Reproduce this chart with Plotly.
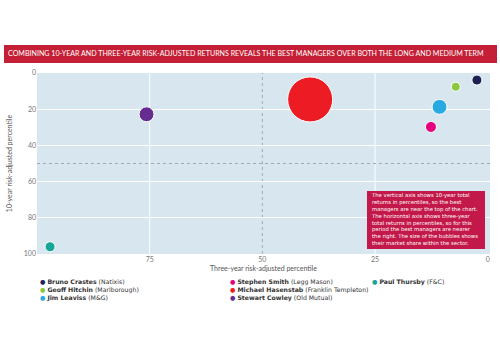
import plotly.graph_objects as go

names = ["Bruno Crastes", "Geoff Hitchin", "Jim Leaviss", "Stephen Smith",
         "Michael Hasenstab", "Stewart Cowley", "Paul Thursby"]
firms = ["Natixis", "Marlborough", "M&G", "Legg Mason",
         "Franklin Templeton", "Old Mutual", "F&C"]
three_year = [2.4, 7.1, 10.7, 12.6, 39.4, 75.7, 97.1]
ten_year = [3.9, 7.6, 18.7, 29.8, 14.6, 22.8, 96.0]
market_share = [1.0, 0.8, 2.2, 1.2, 20.0, 2.2, 1.0]
colors = ["#1f1f57", "#8dc63f", "#29a9e1", "#e6007e", "#ed1c24", "#662d91", "#17a597"]

x_ticks = [0, 25, 50, 75]
x_grid = [25, 75]
y_ticks = [0, 20, 40, 60, 80, 100]

title_text = "COMBINING 10-YEAR AND THREE-YEAR RISK-ADJUSTED RETURNS REVEALS THE BEST MANAGERS OVER BOTH THE LONG AND MEDIUM TERM"
note_lines = [
    "The vertical axis shows 10-year total",
    "returns in percentiles, so the best",
    "managers are near the top of the chart.",
    "The horizontal axis shows three-year",
    "total returns in percentiles, so for this",
    "period the best managers are nearer",
    "the right. The size of the bubbles shows",
    "their market share within the sector.",
]

FONT = "Lato"
WIDE = "DejaVu Sans"
L, R, T, B = 37, 10, 73, 96
W, H = 500, 350
pw, ph = W - L - R, H - T - B

def px_x(p):
    return (p - L) / pw

def px_y(p):
    return (H - B - p) / ph

fig = go.Figure()
maxd = 45
sizeref = 2.0 * max(market_share) / (maxd ** 2)
for i in range(len(names)):
    fig.add_trace(go.Scatter(
        x=[three_year[i]], y=[ten_year[i]], mode="markers",
        marker=dict(size=[market_share[i]], sizemode="area", sizeref=sizeref,
                    color=colors[i], opacity=1, line=dict(color="white", width=1)),
        name=names[i], showlegend=False, hoverinfo="skip"))

shapes = []
for g in x_grid:
    shapes.append(dict(type="line", xref="x", yref="paper", x0=g, x1=g, y0=0, y1=1,
                       line=dict(color="white", width=1), layer="below"))
shapes += [
    dict(type="line", xref="x", yref="paper", x0=50, x1=50, y0=0, y1=1,
         line=dict(color="#a3a7b5", width=1, dash="dot"), layer="below"),
    dict(type="line", xref="paper", yref="y", x0=0, x1=1, y0=50, y1=50,
         line=dict(color="#a3a7b5", width=1, dash="dot"), layer="below"),
    dict(type="rect", xref="paper", yref="paper", x0=px_x(4), x1=px_x(497),
         y0=px_y(63), y1=px_y(45), fillcolor="#c41f36", line=dict(width=0)),
    dict(type="rect", xref="paper", yref="paper", x0=px_x(367), x1=px_x(485),
         y0=px_y(249), y1=px_y(191), fillcolor="#c3184a", line=dict(width=0)),
]

annotations = [
    dict(text=title_text,
         xref="paper", yref="paper", x=px_x(6), y=px_y(54), xanchor="left", yanchor="middle",
         showarrow=False, font=dict(family=FONT, size=7.1, color="white")),
    dict(text="<br>".join(note_lines), xref="paper", yref="paper",
         x=px_x(370), y=px_y(219), xanchor="left", yanchor="middle", align="left",
         showarrow=False, borderpad=0,
         font=dict(family=WIDE, size=5.3, color="white")),
]

cols = [(39, [0, 1, 2]), (229, [3, 4, 5]), (371, [6])]
for cx, idxs in cols:
    lines = [f"<span style='color:{colors[i]}'>●</span> <b>{names[i]}</b> ({firms[i]})"
             for i in idxs]
    yc = 290 if len(idxs) == 3 else 282
    annotations.append(dict(
        text="<br>".join(lines), xref="paper", yref="paper", x=px_x(cx), y=px_y(yc),
        xanchor="left", yanchor="middle", align="left", showarrow=False, borderpad=0,
        font=dict(family=WIDE, size=6.2, color="#333333")))

fig.update_layout(
    width=W, height=H, margin=dict(l=L, r=R, t=T, b=B),
    paper_bgcolor="white", plot_bgcolor="#d7e6ef",
    font=dict(family=FONT, size=7, color="#666666"),
    shapes=shapes, annotations=annotations, showlegend=False,
    xaxis=dict(range=[100, -0.5], tickvals=x_ticks, ticktext=[str(v) for v in x_ticks],
               showgrid=False, zeroline=False, ticks="", showline=False,
               title=dict(text="Three-year risk-adjusted percentile", standoff=4,
                          font=dict(family=FONT, size=7, color="#555555")),
               tickfont=dict(family=FONT, size=7, color="#777777")),
    yaxis=dict(range=[100, 0], tickvals=y_ticks, ticktext=[str(v) for v in y_ticks],
               showgrid=True, gridcolor="white", gridwidth=1, zeroline=False,
               ticks="", showline=False,
               title=dict(text="10-year risk-adjusted percentile", standoff=10,
                          font=dict(family=FONT, size=7, color="#555555")),
               tickfont=dict(family=FONT, size=7, color="#777777")),
)

fig.write_html("out.html")
